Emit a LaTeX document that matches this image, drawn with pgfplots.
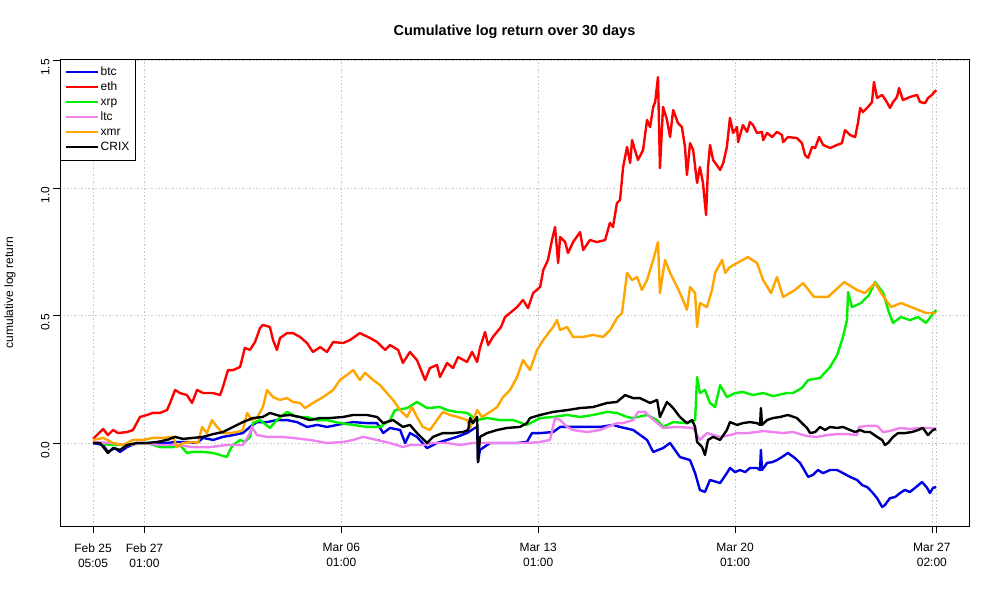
\documentclass[border=0pt]{standalone}
\usepackage{pgfplots}
\pgfplotsset{compat=1.18}
\usepackage{fontspec}
\setmainfont{Liberation Sans}
\definecolor{cbtc}{RGB}{0,0,230}
\definecolor{ceth}{RGB}{255,0,0}
\definecolor{cxrp}{RGB}{0,240,0}
\definecolor{cltc}{RGB}{238,130,238}
\definecolor{cxmr}{RGB}{255,165,0}
\begin{document}
\begin{tikzpicture}
\path[use as bounding box] (0,0) rectangle (1000pt,600pt);
\begin{axis}[
  at={(60pt,74pt)}, anchor=south west,
  scale only axis, width=909pt, height=467pt,
  xmin=-0.964, xmax=31.36, ymin=-0.3255, ymax=1.506,
  /pgf/number format/assume math mode=true,
  axis line style={line width=0.8pt, black},
  xtick pos=bottom, ytick pos=left,
  tick align=outside, major tick length=7pt,
  tick style={black, line width=0.6pt},
  xtick={0.21,2.04,9.04,16.04,23.04,30.04},
  xticklabels={{Feb 25\\05:05},{Feb 27\\01:00},{Mar 06\\01:00},{Mar 13\\01:00},{Mar 20\\01:00},{Mar 27\\02:00}},
  extra x ticks={30.19}, extra x tick labels={},
  extra x tick style={grid=major},
  xticklabel style={align=center, font=\fontsize{12}{15}\selectfont, yshift=-7pt},
  ytick={0,0.5,1,1.5}, yticklabels={0.0,0.5,1.0,1.5},
  yticklabel style={rotate=90, anchor=south, font=\fontsize{12}{14}\selectfont, xshift=-7pt},
  grid=major,
  major grid style={gray!45, dash pattern=on 1.5pt off 2pt, line width=0.6pt},
  title={Cumulative log return over 30 days},
  title style={at={(0.5,1)}, anchor=base, yshift=17pt, font=\bfseries\fontsize{14.5}{16}\selectfont},
  ylabel={cumulative log return},
  every axis y label/.style={at={(axis description cs:0,0.5)}, xshift=-50pt, rotate=90, anchor=center, font=\fontsize{12}{14}\selectfont},
  legend style={at={(0,1)}, anchor=north west, draw=black, line width=0.6pt,
    font=\fontsize{12}{14}\selectfont, inner xsep=4pt, inner ysep=5.5pt, row sep=0pt,
    nodes={inner sep=2pt, text height=8.5pt, text depth=2.5pt}},
  legend cell align=left,
  legend image code/.code={\path (-2pt,0pt) -- (30pt,0pt);\draw[#1, line width=0.6pt] (0pt,0pt) -- (24pt,0pt);},
  every axis plot/.append style={line width=2.4pt, line join=round},
]
% btc
\addplot[cbtc] coordinates {
(0.21,0.000)(0.57,-0.008)(0.74,-0.035)(0.99,-0.020)(1.17,-0.035)(1.42,-0.016)(1.77,0.000)(2.13,0.000)(2.49,0.000)(2.84,0.000)
(3.13,0.004)(3.55,0.004)(3.91,0.000)(4.12,0.020)(4.48,0.012)(4.83,0.024)(5.19,0.031)(5.54,0.039)(5.79,0.063)(6.04,0.082)
(6.40,0.082)(6.75,0.090)(7.11,0.090)(7.46,0.082)(7.82,0.063)(8.18,0.071)(8.53,0.063)(8.89,0.071)(9.46,0.082)(9.95,0.078)
(10.31,0.078)(10.53,0.039)(10.77,0.059)(11.13,0.051)(11.31,0.000)(11.48,0.039)(11.73,0.024)(12.09,-0.020)(12.44,0.000)(12.80,0.012)
(13.15,0.024)(13.51,0.039)(13.79,0.059)(13.87,0.063)(13.90,-0.075)(13.97,-0.027)(14.33,0.000)(14.79,0.000)(15.29,0.000)(15.64,0.004)
(15.82,0.039)(16.11,0.039)(16.57,0.043)(16.82,0.063)(17.28,0.063)(17.78,0.063)(18.24,0.063)(18.70,0.071)(18.95,0.063)(19.42,0.051)
(19.91,0.012)(20.13,-0.035)(20.48,-0.020)(20.73,0.000)(21.08,-0.055)(21.44,-0.067)(21.62,-0.118)(21.79,-0.184)(21.97,-0.192)(22.15,-0.145)
(22.51,-0.157)(22.75,-0.118)(22.86,-0.098)(23.04,-0.114)(23.22,-0.106)(23.40,-0.114)(23.57,-0.098)(23.82,-0.098)(23.93,-0.106)(23.96,-0.027)
(24.00,-0.106)(24.18,-0.078)(24.36,-0.075)(24.53,-0.067)(24.71,-0.055)(24.92,-0.039)(25.17,-0.059)(25.35,-0.078)(25.46,-0.098)(25.64,-0.133)
(25.81,-0.125)(25.99,-0.106)(26.17,-0.118)(26.42,-0.106)(26.67,-0.106)(26.88,-0.118)(27.13,-0.133)(27.38,-0.145)(27.56,-0.165)(27.74,-0.173)
(27.91,-0.192)(28.09,-0.216)(28.27,-0.251)(28.37,-0.243)(28.55,-0.216)(28.73,-0.212)(28.91,-0.196)(29.08,-0.184)(29.26,-0.192)(29.44,-0.176)
(29.69,-0.153)(29.87,-0.176)(29.97,-0.196)(30.08,-0.176)(30.19,-0.173)
};
\addlegendentry{btc}
% eth
\addplot[ceth] coordinates {
(0.21,0.016)(0.57,0.055)(0.74,0.031)(0.92,0.051)(1.10,0.039)(1.42,0.043)(1.63,0.051)(1.88,0.102)(2.13,0.110)(2.34,0.118)
(2.59,0.118)(2.84,0.129)(2.95,0.157)(3.13,0.208)(3.30,0.196)(3.55,0.188)(3.73,0.157)(3.91,0.208)(4.12,0.196)(4.48,0.196)
(4.73,0.188)(4.83,0.220)(5.01,0.286)(5.19,0.286)(5.44,0.298)(5.61,0.373)(5.79,0.365)(5.97,0.396)(6.15,0.451)(6.25,0.463)
(6.50,0.455)(6.61,0.404)(6.75,0.365)(6.86,0.412)(7.11,0.431)(7.32,0.431)(7.57,0.416)(7.82,0.392)(8.03,0.357)(8.29,0.376)
(8.53,0.357)(8.75,0.396)(9.10,0.392)(9.35,0.404)(9.70,0.431)(10.06,0.412)(10.31,0.396)(10.60,0.365)(10.77,0.384)(11.06,0.365)
(11.23,0.314)(11.48,0.357)(11.73,0.325)(12.02,0.247)(12.19,0.294)(12.44,0.306)(12.55,0.259)(12.80,0.314)(13.01,0.294)(13.19,0.337)
(13.51,0.318)(13.69,0.357)(13.87,0.318)(13.97,0.373)(14.15,0.435)(14.26,0.384)(14.43,0.416)(14.72,0.455)(14.86,0.494)(15.04,0.510)
(15.29,0.533)(15.50,0.561)(15.68,0.529)(15.86,0.588)(16.11,0.612)(16.22,0.678)(16.39,0.718)(16.53,0.796)(16.64,0.847)(16.75,0.706)
(16.82,0.808)(17.00,0.788)(17.10,0.745)(17.28,0.788)(17.53,0.827)(17.64,0.757)(17.88,0.796)(18.13,0.788)(18.42,0.796)(18.59,0.863)
(18.70,0.847)(18.84,0.941)(18.95,0.953)(19.06,1.082)(19.20,1.161)(19.31,1.098)(19.38,1.188)(19.48,1.149)(19.59,1.110)(19.77,1.149)
(19.91,1.267)(20.02,1.239)(20.13,1.318)(20.20,1.337)(20.30,1.435)(20.37,1.078)(20.48,1.318)(20.62,1.267)(20.73,1.200)(20.84,1.306)
(21.01,1.255)(21.15,1.239)(21.26,1.161)(21.33,1.051)(21.44,1.176)(21.55,1.149)(21.69,1.020)(21.79,1.082)(21.90,1.020)(22.01,0.894)
(22.08,1.082)(22.15,1.169)(22.26,1.110)(22.51,1.071)(22.62,1.098)(22.75,1.161)(22.86,1.275)(22.97,1.216)(23.11,1.239)(23.15,1.180)
(23.32,1.247)(23.47,1.220)(23.57,1.259)(23.68,1.247)(23.82,1.216)(24.00,1.220)(24.04,1.188)(24.18,1.216)(24.36,1.200)(24.53,1.220)
(24.71,1.208)(24.75,1.180)(24.92,1.200)(25.24,1.196)(25.42,1.176)(25.53,1.129)(25.64,1.118)(25.78,1.161)(25.89,1.157)(26.03,1.200)
(26.17,1.169)(26.42,1.157)(26.67,1.169)(26.84,1.176)(26.95,1.227)(27.13,1.208)(27.31,1.200)(27.41,1.255)(27.49,1.314)(27.59,1.298)
(27.77,1.318)(27.91,1.337)(27.98,1.416)(28.09,1.353)(28.27,1.365)(28.44,1.337)(28.55,1.314)(28.66,1.337)(28.80,1.357)(28.87,1.392)
(29.01,1.345)(29.26,1.357)(29.51,1.365)(29.62,1.337)(29.80,1.333)(29.90,1.353)(30.04,1.365)(30.19,1.384)
};
\addlegendentry{eth}
% xrp
\addplot[cxrp] coordinates {
(0.21,0.004)(0.81,-0.008)(1.42,-0.008)(2.13,0.000)(2.59,-0.016)(3.05,-0.016)(3.30,-0.008)(3.55,-0.039)(3.77,-0.035)(4.12,-0.035)
(4.48,-0.039)(4.73,-0.047)(4.97,-0.055)(5.08,-0.027)(5.19,-0.008)(5.44,0.012)(5.61,0.004)(5.79,0.024)(5.90,0.078)(6.15,0.090)
(6.50,0.059)(6.75,0.090)(7.11,0.122)(7.46,0.102)(7.82,0.102)(8.18,0.090)(8.53,0.090)(8.99,0.078)(9.46,0.071)(9.95,0.063)
(10.42,0.063)(10.77,0.090)(10.95,0.129)(11.38,0.137)(11.73,0.161)(12.09,0.137)(12.55,0.141)(12.80,0.129)(13.15,0.122)(13.51,0.118)
(13.87,0.090)(14.22,0.098)(14.68,0.090)(15.15,0.090)(15.64,0.071)(16.11,0.098)(16.57,0.102)(17.07,0.110)(17.53,0.102)(17.99,0.110)
(18.49,0.122)(18.84,0.118)(19.20,0.102)(19.42,0.098)(19.91,0.110)(20.27,0.090)(20.48,0.063)(20.84,0.082)(21.33,0.078)(21.62,0.090)
(21.69,0.259)(21.79,0.196)(21.97,0.208)(22.15,0.157)(22.33,0.141)(22.51,0.227)(22.75,0.180)(23.04,0.196)(23.32,0.200)(23.68,0.188)
(24.04,0.196)(24.39,0.184)(24.89,0.196)(25.10,0.196)(25.42,0.216)(25.64,0.247)(26.06,0.255)(26.42,0.298)(26.67,0.345)(26.88,0.416)
(27.02,0.482)(27.06,0.592)(27.20,0.533)(27.52,0.549)(27.80,0.580)(28.02,0.631)(28.31,0.588)(28.52,0.510)(28.66,0.471)(28.94,0.494)
(29.26,0.482)(29.55,0.494)(29.83,0.471)(30.19,0.522)
};
\addlegendentry{xrp}
% ltc
\addplot[cltc] coordinates {
(0.21,0.004)(0.81,0.000)(1.42,-0.008)(1.99,0.000)(2.59,-0.008)(3.20,-0.008)(3.77,-0.016)(4.37,-0.016)(4.97,-0.008)(5.54,-0.008)
(5.79,0.039)(5.86,0.063)(6.04,0.031)(6.40,0.024)(6.86,0.024)(7.32,0.020)(7.92,0.012)(8.53,0.000)(9.10,0.004)(9.46,0.012)
(9.81,0.024)(10.31,0.012)(10.77,0.000)(11.23,-0.016)(11.48,-0.008)(11.94,-0.008)(12.30,0.000)(12.80,0.000)(13.26,-0.008)(13.72,0.000)
(14.22,0.000)(14.68,0.000)(15.15,0.000)(15.64,0.000)(16.11,0.004)(16.46,0.012)(16.64,0.098)(16.82,0.090)(17.07,0.063)(17.28,0.051)
(17.78,0.043)(18.24,0.051)(18.84,0.078)(19.06,0.078)(19.42,0.090)(19.59,0.122)(19.84,0.122)(20.02,0.102)(20.48,0.059)(20.98,0.063)
(21.55,0.059)(21.79,0.012)(22.04,0.039)(22.51,0.024)(22.86,0.031)(23.11,0.039)(23.47,0.039)(23.82,0.043)(24.04,0.047)(24.39,0.043)
(24.75,0.039)(25.10,0.043)(25.35,0.035)(25.60,0.027)(25.96,0.024)(26.31,0.031)(26.67,0.035)(27.02,0.035)(27.38,0.031)(27.45,0.063)
(27.74,0.067)(28.09,0.067)(28.30,0.043)(28.55,0.047)(28.91,0.059)(29.26,0.055)(29.62,0.059)(29.97,0.059)(30.19,0.055)
};
\addlegendentry{ltc}
% xmr
\addplot[cxmr] coordinates {
(0.21,0.012)(0.57,0.020)(0.92,0.000)(1.28,-0.008)(1.63,0.012)(1.99,0.012)(2.34,0.020)(2.70,0.020)(3.05,0.024)(3.20,-0.016)
(3.41,0.000)(3.77,0.004)(3.94,0.000)(4.09,0.063)(4.26,0.039)(4.44,0.090)(4.62,0.063)(4.83,0.039)(5.08,0.039)(5.33,0.043)
(5.54,0.051)(5.69,0.118)(5.86,0.090)(6.04,0.098)(6.25,0.141)(6.40,0.208)(6.61,0.180)(6.86,0.169)(7.11,0.176)(7.32,0.161)
(7.57,0.157)(7.75,0.137)(8.03,0.157)(8.39,0.180)(8.75,0.208)(8.99,0.247)(9.24,0.267)(9.46,0.286)(9.70,0.247)(9.88,0.275)
(10.17,0.247)(10.42,0.227)(10.66,0.196)(10.88,0.169)(11.13,0.129)(11.38,0.102)(11.55,0.141)(11.73,0.102)(11.94,0.063)(12.19,0.051)
(12.44,0.090)(12.65,0.122)(12.90,0.110)(13.19,0.102)(13.51,0.090)(13.62,0.059)(13.87,0.129)(14.04,0.102)(14.33,0.122)(14.58,0.141)
(14.79,0.180)(15.04,0.208)(15.29,0.259)(15.50,0.325)(15.75,0.286)(16.00,0.365)(16.22,0.404)(16.57,0.455)(16.71,0.482)(16.82,0.443)
(17.07,0.455)(17.28,0.416)(17.64,0.416)(17.99,0.424)(18.35,0.416)(18.60,0.443)(18.84,0.490)(19.02,0.510)(19.20,0.667)(19.38,0.639)
(19.56,0.651)(19.73,0.600)(19.91,0.639)(20.13,0.718)(20.30,0.788)(20.37,0.588)(20.55,0.718)(20.73,0.667)(20.98,0.612)(21.19,0.561)
(21.33,0.522)(21.44,0.612)(21.62,0.588)(21.69,0.455)(21.79,0.549)(22.04,0.533)(22.22,0.600)(22.33,0.667)(22.58,0.718)(22.69,0.667)
(22.86,0.690)(23.11,0.706)(23.50,0.729)(23.82,0.706)(24.04,0.639)(24.32,0.588)
(24.53,0.651)(24.75,0.573)(25.17,0.600)(25.46,0.627)(25.85,0.573)(26.35,0.573)(26.92,0.631)(27.38,0.600)(27.66,0.588)(28.02,0.627)
(28.23,0.588)(28.59,0.533)(28.94,0.549)(29.40,0.529)(29.83,0.510)(30.19,0.510)
};
\addlegendentry{xmr}
% CRIX
\addplot[black] coordinates {
(0.21,0.000)(0.46,0.000)(0.74,-0.039)(0.92,-0.020)(1.17,-0.027)(1.42,-0.008)(1.77,0.000)(2.13,0.000)(2.49,0.004)(2.84,0.012)
(3.13,0.024)(3.41,0.016)(3.77,0.020)(4.12,0.024)(4.48,0.035)(4.83,0.043)(5.19,0.063)(5.54,0.082)(5.90,0.098)(6.25,0.102)
(6.50,0.118)(6.86,0.106)(7.21,0.110)(7.57,0.102)(7.92,0.090)(8.29,0.098)(8.64,0.098)(9.10,0.102)(9.46,0.110)(9.95,0.110)
(10.31,0.102)(10.53,0.078)(10.88,0.090)(11.23,0.063)(11.48,0.071)(11.73,0.039)(12.09,0.000)(12.30,0.024)(12.65,0.039)(13.01,0.039)
(13.37,0.043)(13.55,0.051)(13.62,0.098)(13.72,0.078)(13.87,0.102)(13.90,-0.075)(13.97,0.024)(14.22,0.039)(14.58,0.051)(14.93,0.059)
(15.39,0.063)(15.64,0.078)(15.75,0.098)(16.11,0.110)(16.57,0.122)(17.07,0.129)(17.53,0.137)(17.99,0.141)(18.49,0.157)(18.84,0.161)
(19.13,0.188)(19.42,0.176)(19.66,0.176)(20.02,0.157)(20.27,0.169)(20.37,0.102)(20.62,0.161)(20.84,0.137)(21.08,0.102)(21.33,0.078)
(21.51,0.090)(21.62,0.063)(21.69,0.004)(21.87,-0.016)(21.97,-0.047)(22.08,0.012)(22.26,0.024)(22.51,0.012)(22.75,0.051)(22.86,0.082)
(23.11,0.071)(23.32,0.078)(23.57,0.082)(23.82,0.078)(23.93,0.071)(23.96,0.137)(24.00,0.071)(24.18,0.090)(24.39,0.098)(24.64,0.102)
(24.92,0.110)(25.24,0.098)(25.42,0.078)(25.60,0.059)(25.71,0.039)(25.89,0.043)(26.06,0.063)(26.24,0.051)(26.42,0.063)(26.67,0.059)
(26.88,0.063)(27.13,0.051)(27.31,0.043)(27.49,0.051)(27.66,0.043)(27.84,0.043)(28.09,0.024)(28.27,0.012)(28.37,-0.008)(28.48,0.000)
(28.66,0.024)(28.84,0.039)(29.08,0.039)(29.33,0.043)(29.55,0.051)(29.72,0.059)(29.90,0.031)(30.08,0.051)(30.19,0.055)
};
\addlegendentry{CRIX}
\end{axis}
\end{tikzpicture}
\end{document}
